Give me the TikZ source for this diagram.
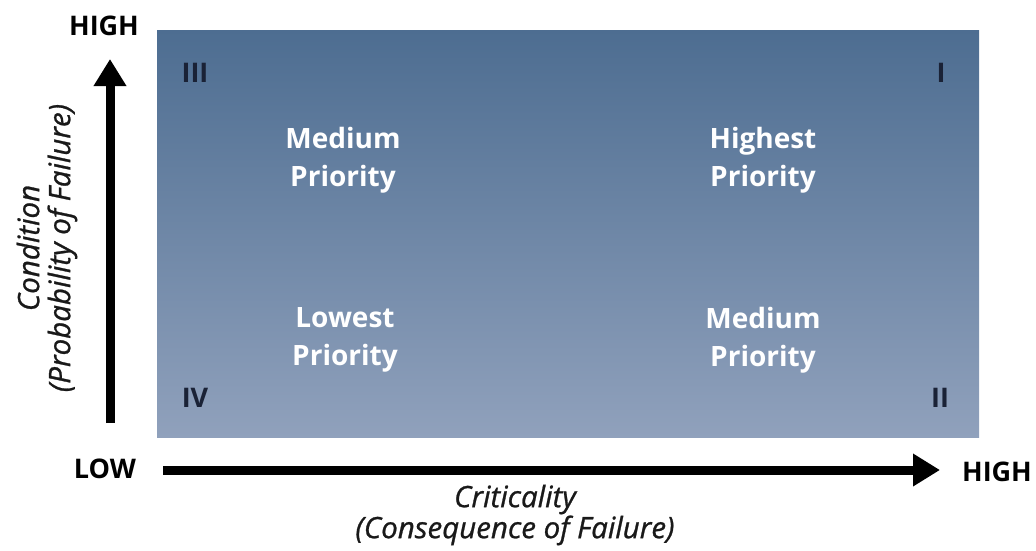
\documentclass[tikz,border=0pt]{standalone}
\usepackage{fontspec}
\setmainfont{Open Sans}
\newfontfamily\titlefont{Open Sans}[FakeBold=0.9]
\usetikzlibrary{arrows.meta}
\definecolor{topblue}{HTML}{4D6D91}
\definecolor{botblue}{HTML}{90A1BC}
\definecolor{numcol}{HTML}{1A2236}
\tikzset{
  axislbl/.style={font=\fontsize{27}{30}\selectfont\bfseries, text=black, inner sep=0pt},
  quadlbl/.style={font=\fontsize{28}{38}\selectfont\bfseries, text=white, align=center, inner sep=0pt},
  numlbl/.style={font=\fontsize{27}{30}\selectfont\bfseries, text=numcol, inner sep=0pt},
  titlelbl/.style={font=\titlefont\fontsize{29.5}{31}\selectfont\itshape, text=black!90, align=center, inner sep=0pt},
  axisarrow/.style={line width=9pt, draw=black, -{Triangle[length=27pt,width=31pt]}}
}
\begin{document}
\begin{tikzpicture}[x=1pt,y=-1pt]
\useasboundingbox (0,0) rectangle (1036,550);
\fill[top color=topblue, bottom color=botblue] (157,30) rectangle (979,437);
\node[quadlbl] (ul) at (343,160) {Medium\\Priority};
\node[quadlbl] (ur) at (763,160) {Highest\\Priority};
\node[quadlbl] (ll) at (345,340) {Lowest\\Priority};
\node[quadlbl] (lr) at (763,340) {Medium\\Priority};
\node[numlbl] (n3) at (195,73) {III};
\node[numlbl] (n1) at (941,73) {I};
\node[numlbl] (n4) at (195,398) {IV};
\node[numlbl] (n2) at (940,398) {II};
\node[axislbl] (hightop) at (104,26) {HIGH};
\node[axislbl] (low) at (105,469) {LOW};
\node[axislbl] (highright) at (997,472) {HIGH};
\coordinate (vb) at (110,423);
\coordinate (vt) at (110,59);
\coordinate (hb) at (163,470);
\coordinate (ht) at (940,470);
\draw[axisarrow] (vb) -- (vt);
\draw[axisarrow] (hb) -- (ht);
\node[titlelbl] (xlab) at (515,515) {Criticality\\(Consequence of Failure)};
\node[titlelbl, rotate=90] (ylab) at (47,248) {Condition\\(Probability of Failure)};
\end{tikzpicture}
\end{document}
